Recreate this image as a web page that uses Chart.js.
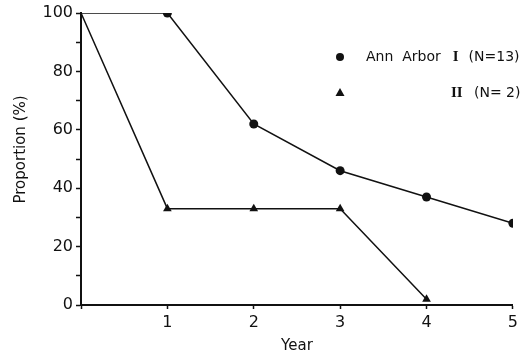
<!DOCTYPE html>
<html>
<head>
<meta charset="utf-8">
<script src="https://cdn.jsdelivr.net/npm/chart.js@4.4.1/dist/chart.umd.min.js"></script>
<style>
  html, body { margin: 0; padding: 0; background: #fff; }
</style>
</head>
<body>
<canvas id="chart" width="522" height="358"></canvas>
<script>
// data
const yearsI = [0, 1, 2, 3, 4, 5];
const groupI = [100, 100, 62, 46, 37, 28];
const yearsII = [0, 1, 2, 3, 4];
const groupII = [100, 33, 33, 33, 2];

const xLabel = "Year";
// leading spaces nudge the rotated title up, as in the scan
const yLabel = "    Proportion (%)";
const legendI = ["Ann  Arbor", "I", "(N=13)"];
const legendII = ["II", "(N= 2)"];

const FONT = "'DejaVu Sans', sans-serif";
const INK = "#111";

function toPoints(xs, ys) {
    return xs.map((x, i) => ({ x: x, y: ys[i] }));
}

// legend drawn by hand: second row sits under the "I (N=13)" part
const handLegend = {
    id: "handLegend",
    afterDraw(chart) {
        const ctx = chart.ctx;
        ctx.save();
        ctx.fillStyle = INK;
        ctx.textBaseline = "middle";

        // row 1
        ctx.beginPath();
        ctx.arc(340, 57, 4, 0, Math.PI * 2);
        ctx.fill();
        ctx.font = "14px " + FONT;
        ctx.fillText(legendI[0], 366, 57);
        let x = 366 + ctx.measureText(legendI[0]).width + 12;
        ctx.font = "bold 15px 'Liberation Serif', serif";
        ctx.fillText(legendI[1], x, 57);
        x += ctx.measureText(legendI[1]).width + 10;
        ctx.font = "14px " + FONT;
        ctx.fillText(legendI[2], x, 57);

        // row 2
        ctx.beginPath();
        ctx.moveTo(340, 88);
        ctx.lineTo(344.5, 96);
        ctx.lineTo(335.5, 96);
        ctx.closePath();
        ctx.fill();
        ctx.font = "bold 15px 'Liberation Serif', serif";
        ctx.fillText(legendII[0], 451, 93);
        ctx.font = "14px " + FONT;
        ctx.fillText(legendII[1], 474, 93);
        ctx.restore();
    }
};

new Chart(document.getElementById("chart"), {
    type: "scatter",
    data: {
        datasets: [
            {
                label: "I",
                data: toPoints(yearsI, groupI),
                showLine: true,
                borderColor: INK,
                borderWidth: 1.5,
                backgroundColor: INK,
                pointStyle: "circle",
                pointRadius: ctx => ctx.dataIndex === 0 ? 0 : 4.5,
                pointBorderWidth: 0
            },
            {
                label: "II",
                data: toPoints(yearsII, groupII),
                showLine: true,
                borderColor: INK,
                borderWidth: 1.5,
                backgroundColor: INK,
                pointStyle: "triangle",
                pointRadius: ctx => ctx.dataIndex === 0 ? 0 : 5,
                pointBorderWidth: 0
            }
        ]
    },
    options: {
        responsive: false,
        animation: false,
        layout: { padding: { top: 13, right: 0, left: 0, bottom: 0 } },
        plugins: {
            legend: { display: false },
            tooltip: { enabled: false }
        },
        scales: {
            x: {
                type: "linear",
                min: 0,
                max: 5,
                ticks: {
                    stepSize: 1,
                    color: INK,
                    font: { family: FONT, size: 16 },
                    padding: 4,
                    maxRotation: 0,
                    callback: v => v === 0 ? "" : v
                },
                grid: { drawOnChartArea: false, tickLength: 4, color: INK, tickWidth: 1.5 },
                border: { color: INK, width: 2 },
                title: {
                    display: true,
                    text: xLabel,
                    color: INK,
                    font: { family: FONT, size: 15 },
                    padding: { top: 0, bottom: 3 }
                },
                afterFit: s => { s.height = 53; }
            },
            y: {
                min: 0,
                max: 100,
                ticks: {
                    stepSize: 10,
                    color: INK,
                    font: { family: FONT, size: 16 },
                    padding: 3,
                    callback: v => v % 20 === 0 ? v : ""
                },
                grid: { drawOnChartArea: false, tickLength: 5, color: INK, tickWidth: 1.5 },
                border: { color: INK, width: 2 },
                title: {
                    display: true,
                    text: yLabel,
                    color: INK,
                    font: { family: FONT, size: 15 },
                    padding: { top: 12, bottom: 0 }
                },
                afterFit: s => { s.width = 81; }
            }
        }
    },
    plugins: [handLegend]
});
</script>
</body>
</html>
